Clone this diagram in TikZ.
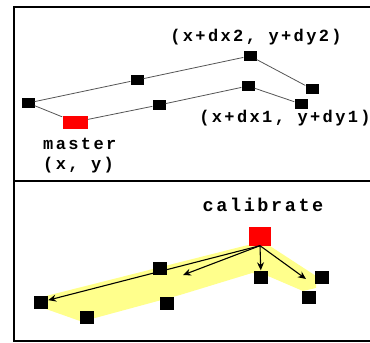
\documentclass[tikz,border=0pt]{standalone}
\usepackage{fontspec}
\newfontfamily\lblfont{Liberation Mono}[LetterSpace=14]
\usepackage{tikz}
\usetikzlibrary{arrows.meta}
\definecolor{mark}{HTML}{FF0000}
\definecolor{band}{HTML}{FFFF8C}
\definecolor{wire}{HTML}{555555}

\begin{document}
\begin{tikzpicture}[x=1pt,y=-1pt,
  pt/.style={fill=black,inner sep=0pt,minimum width=13pt,minimum height=10pt},
  bigpt/.style={pt,minimum width=14pt,minimum height=13pt},
  master/.style={fill=mark,inner sep=0pt,minimum width=25pt,minimum height=13pt},
  lbl/.style={font=\lblfont\bfseries\fontsize{17}{19.5}\selectfont,inner sep=0pt},
  wire/.style={color=wire,line width=0.8pt},
  frame/.style={line width=2pt},
  arr/.style={-{Stealth[length=8pt,width=7pt]},line width=1.1pt}]
  \useasboundingbox (0,0) rectangle (370,343);
  \draw[frame] (370,7) -- (14,7) -- (14,341) -- (370,341);
  \draw[frame] (14,181) -- (370,181);
  % top panel
  \node[pt] (p0) at (28,103) {};
  \node[master] (m) at (75,122) {};
  \node[pt] (u1) at (137,80) {};
  \node[pt] (u2) at (250,56) {};
  \node[pt] (u3) at (312,89) {};
  \node[pt] (l1) at (159,105) {};
  \node[pt] (l2) at (248,86) {};
  \node[pt] (l3) at (301,104) {};
  \draw[wire] (p0) -- (u1) -- (u2) -- (u3);
  \draw[wire] (p0) -- (m) -- (l1) -- (l2) -- (l3);
  \node[lbl] (t2) at (256,37) {(x+dx2, y+dy2)};
  \node[lbl] (t1) at (285,118) {(x+dx1, y+dy1)};
  \node[lbl,align=left,anchor=north west] (tm) at (43,138) {master\\(x, y)};
  % bottom panel
  \fill[band] (46,296) -- (248,245) -- (270,246) -- (316,276) -- (316,288) -- (303,291)
    -- (268,276) -- (252,273) -- (180,295) -- (95,318) -- (80,321) -- (46,309) -- cycle;
  \node[bigpt] (b1) at (41,302) {};
  \node[bigpt] (b2) at (87,317) {};
  \node[bigpt] (b3) at (160,268) {};
  \node[bigpt] (b4) at (167,303) {};
  \node[bigpt] (b5) at (261,277) {};
  \node[bigpt] (b6) at (309,297) {};
  \node[bigpt] (b7) at (322,277) {};
  \node[fill=mark,inner sep=0pt,minimum width=22pt,minimum height=19pt] (cal) at (260,236) {};
  \node[lbl,font=\lblfont\bfseries\fontsize{18.5}{20}\selectfont] (tc) at (263,205) {calibrate};
  \coordinate (e1) at (183,275);
  \coordinate (e2) at (306,279);
  \draw[arr] (cal.south) -- (b1);
  \draw[arr] (cal.south) -- (e1);
  \draw[arr] (cal.south) -- (b5);
  \draw[arr] (cal.south) -- (e2);
\end{tikzpicture}
\end{document}
